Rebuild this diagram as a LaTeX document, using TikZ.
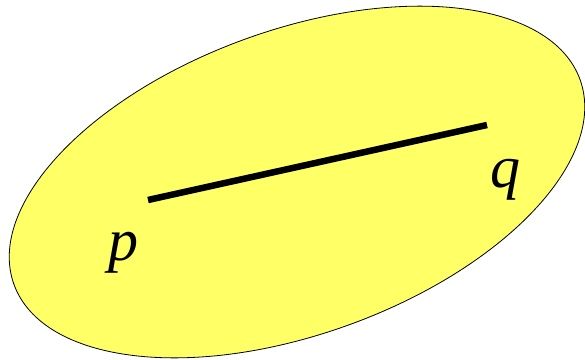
\documentclass[tikz,border=0pt]{standalone}
\usepackage{fontspec}
\setmainfont{Liberation Serif}
\definecolor{blobfill}{HTML}{FFFF66}
\begin{document}
\begin{tikzpicture}[x=1pt,y=-1pt,
  blob/.style={fill=blobfill,draw=black,line width=0.8pt},
  seg/.style={line width=6.5pt,line cap=butt},
  lbl/.style={font=\fontsize{60}{60}\selectfont\itshape,inner sep=0pt,anchor=base}]
\useasboundingbox (0,0) rectangle (585,359);
\draw[blob] (297,182) ellipse[x radius=301, y radius=152, rotate=19.9];
\coordinate (P) at (148,200);
\coordinate (Q) at (487,125);
\draw[seg] (P) -- (Q);
\node[lbl] (p) at (123,260) {p};
\node[lbl] (q) at (505,187) {q};
\end{tikzpicture}
\end{document}
